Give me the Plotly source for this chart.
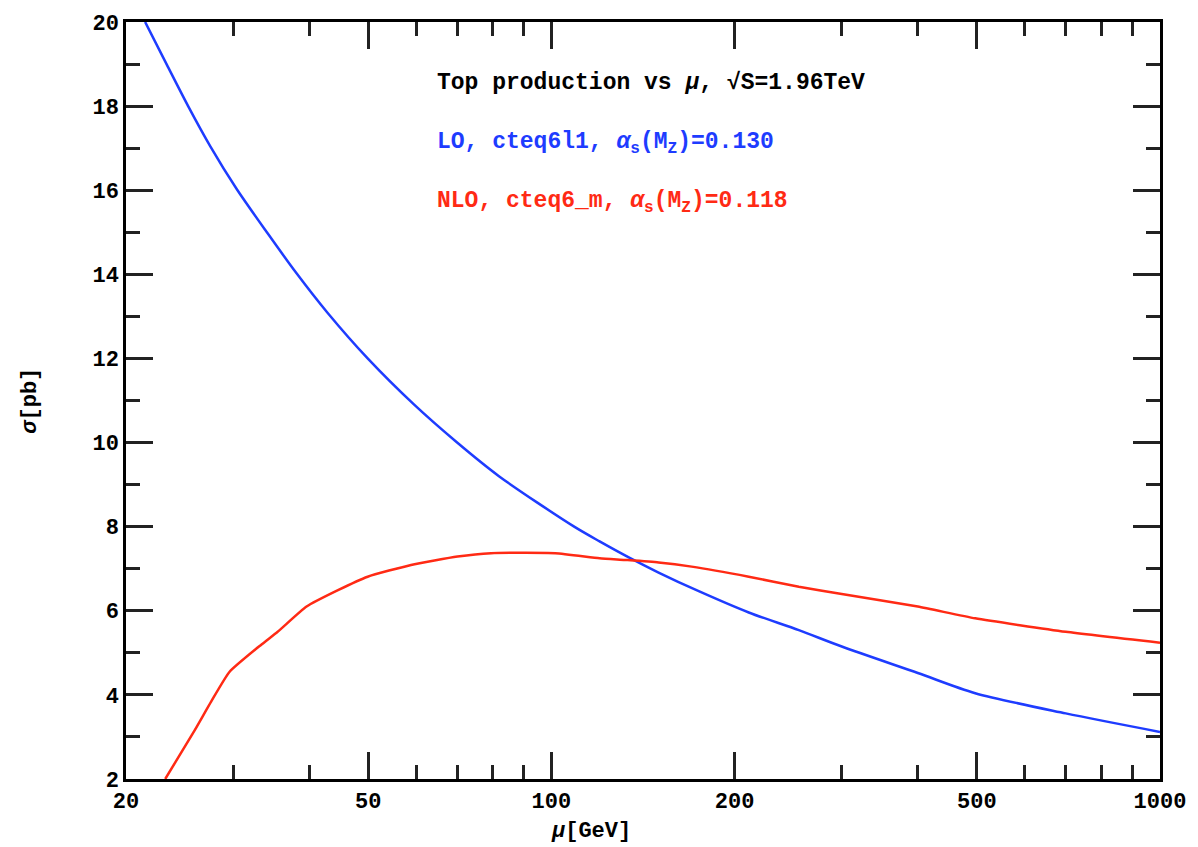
import plotly.graph_objects as go

# LO (blue) curve: mu [GeV], sigma [pb]
lo_mu = [21.5, 23.35, 25.3, 27.5, 30.4, 34.2, 38.1, 42.9, 49.9, 59.5, 70.0, 82.0,
         109.0, 120.0, 134.0, 150.0, 175.0, 211.0, 255.0, 300.0, 400.0, 497.0, 700.0, 1000.0]
lo_sigma = [20.0, 18.98, 18.0, 17.05, 16.03, 14.97, 14.03, 13.08, 12.0, 10.9, 10.0, 9.2,
            8.0, 7.65, 7.27, 6.91, 6.46, 5.96, 5.54, 5.15, 4.52, 4.04, 3.56, 3.12]

# NLO (red) curve
nlo_mu = [23.2, 25.96, 27.6, 29.6, 33.4, 35.5, 39.6, 44.6, 49.9, 58.8, 70.1, 79.6, 101.5,
          120.0, 132.0, 150.0, 170.0, 211.0, 255.0, 300.0, 400.0, 497.0, 700.0, 1000.0]
nlo_sigma = [2.0, 3.17, 3.84, 4.55, 5.2, 5.5, 6.10, 6.49, 6.81, 7.09, 7.29, 7.37, 7.37,
             7.25, 7.21, 7.15, 7.05, 6.81, 6.57, 6.40, 6.10, 5.82, 5.50, 5.24]

x_major = [20, 50, 100, 200, 500, 1000]
x_major_labels = ["20", "50", "100", "200", "500", "1000"]
x_minor = [30, 40, 60, 70, 80, 90, 300, 400, 600, 700, 800, 900]
y_major = [2, 4, 6, 8, 10, 12, 14, 16, 18, 20]

BLUE = "#1e3cff"
RED = "#ff2a14"
FONT = "Liberation Mono"

fig = go.Figure()
fig.add_trace(go.Scatter(x=lo_mu, y=lo_sigma, mode="lines",
                         line=dict(color=BLUE, width=2.5, shape="spline", smoothing=0.8),
                         showlegend=False))
fig.add_trace(go.Scatter(x=nlo_mu, y=nlo_sigma, mode="lines",
                         line=dict(color=RED, width=2.5, shape="spline", smoothing=0.5),
                         showlegend=False))

axis_common = dict(
    showline=True, linecolor="black", linewidth=2.5, mirror="ticks",
    ticks="inside", ticklen=27, tickwidth=2.5, tickcolor="#222",
    showgrid=False, zeroline=False,
    tickfont=dict(family=FONT, size=22, color="black", weight="bold"),
)

fig.update_xaxes(type="log", range=[1.30103, 3.0],
                 tickmode="array", tickvals=x_major, ticktext=x_major_labels,
                 minor=dict(tickmode="array", tickvals=x_minor, ticks="inside",
                            ticklen=14, tickwidth=2.5, tickcolor="#222"),
                 **axis_common)
fig.update_yaxes(range=[2, 20], tickmode="array", tickvals=y_major,
                 minor=dict(dtick=1, ticks="inside", ticklen=14, tickwidth=2.5, tickcolor="#222"),
                 **axis_common)

ann_font = dict(family=FONT, size=23, weight="bold")
fig.add_annotation(x=0.2992, y=0.919, xref="paper", yref="paper", xanchor="left", yanchor="middle",
                   text="Top production vs <i>μ</i>, √S=1.96TeV", showarrow=False,
                   font=dict(color="black", **ann_font))
fig.add_annotation(x=0.2992, y=0.840, xref="paper", yref="paper", xanchor="left", yanchor="middle",
                   text="LO, cteq6l1, <i>α</i><sub>s</sub>(M<sub>Z</sub>)=0.130", showarrow=False,
                   font=dict(color=BLUE, **ann_font))
fig.add_annotation(x=0.2992, y=0.762, xref="paper", yref="paper", xanchor="left", yanchor="middle",
                   text="NLO, cteq6_m, <i>α</i><sub>s</sub>(M<sub>Z</sub>)=0.118", showarrow=False,
                   font=dict(color=RED, **ann_font))

# axis titles
title_font = dict(family=FONT, size=22, weight="bold")
fig.add_annotation(x=(592 - 126) / 1036, y=-(831 - 779) / 757, xref="paper", yref="paper",
                   xanchor="center", yanchor="middle", text="<i>μ</i>[GeV]", showarrow=False,
                   font=dict(color="black", **title_font))
fig.add_annotation(x=-(126 - 30) / 1036, y=0.5, xref="paper", yref="paper",
                   xanchor="center", yanchor="middle", text="<i>σ</i>[pb]", showarrow=False,
                   textangle=-90, font=dict(color="black", **title_font))

fig.update_layout(
    width=1198, height=847,
    margin=dict(l=126, r=36, t=22, b=68),
    paper_bgcolor="white", plot_bgcolor="white",
)

# remove the default 8px page margin so the figure sits at the window's top-left corner
fig.write_html("out.html", config={"displayModeBar": False},
               post_script="document.body.style.margin='0';document.body.style.overflow='hidden';")
